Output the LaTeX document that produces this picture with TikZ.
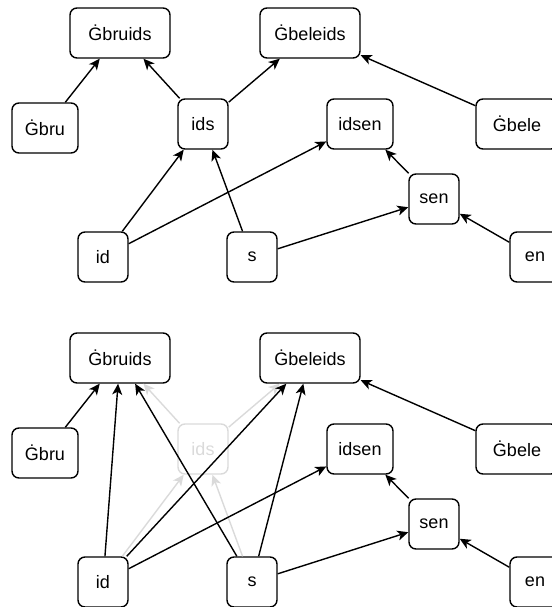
\documentclass[tikz,border=0pt]{standalone}
\usepackage{fontspec}
\setmainfont{Liberation Sans}
\usetikzlibrary{arrows.meta}
\definecolor{faint}{RGB}{218,218,218}
\tikzset{
  box/.style={draw, rounded corners=7pt, line width=1.4pt, minimum height=50pt,
    minimum width=50pt, inner sep=0pt, font=\fontsize{18}{20}\selectfont},
  ghost/.style={box, draw=faint, text=faint},
  edge/.style={-{Stealth[length=11pt,width=10pt,inset=3pt]}, line width=1.4pt},
  faintedge/.style={edge, draw=faint}
}
\begin{document}
\begin{tikzpicture}[x=1pt,y=-1pt]
  \useasboundingbox (0,0) rectangle (551,607);
  % upper graph
  \node[box, minimum width=100pt] (gbruids) at (120,33) {Ġbruids};
  \node[box, minimum width=100pt] (gbeleids) at (310,33) {Ġbeleids};
  \node[box, minimum width=66pt] (gbru) at (45,128) {Ġbru};
  \node[box] (ids) at (203,124) {ids};
  \node[box, minimum width=66pt] (idsen) at (360,124) {idsen};
  \node[box, minimum width=82pt] (gbele) at (517,124) {Ġbele};
  \node[box] (sen) at (434,199) {sen};
  \node[box] (id) at (103,257) {id};
  \node[box] (s) at (252,257) {s};
  \node[box] (en) at (535,257) {en};
  \begin{scope}[edge]
    \draw (gbru) to (gbruids);
    \draw (ids) to (gbruids);
    \draw (ids) to (gbeleids);
    \draw (gbele) to (gbeleids);
    \draw (id) to (ids);
    \draw (s) to (ids);
    \draw (id) to (idsen);
    \draw (s) to (sen);
    \draw (sen) to (idsen);
    \draw (en) to (sen);
  \end{scope}
  % lower graph, ids faded out
  \node[ghost] (ids2) at (203,449) {ids};
  \node[box, minimum width=100pt] (gbruids2) at (120,358) {Ġbruids};
  \node[box, minimum width=100pt] (gbeleids2) at (310,358) {Ġbeleids};
  \node[box, minimum width=66pt] (gbru2) at (45,453) {Ġbru};
  \node[box, minimum width=66pt] (idsen2) at (360,449) {idsen};
  \node[box, minimum width=82pt] (gbele2) at (517,449) {Ġbele};
  \node[box] (sen2) at (434,524) {sen};
  \node[box] (id2) at (103,582) {id};
  \node[box] (s2) at (252,582) {s};
  \node[box] (en2) at (535,582) {en};
  \begin{scope}[faintedge]
    \draw (ids2) to (gbruids2);
    \draw (ids2) to (gbeleids2);
    \draw (id2) to (ids2);
    \draw (s2) to (ids2);
  \end{scope}
  \begin{scope}[edge]
    \draw (gbru2) to (gbruids2);
    \draw (id2) to (gbruids2);
    \draw (s2) to (gbruids2);
    \draw (id2) to (gbeleids2);
    \draw (s2) to (gbeleids2);
    \draw (gbele2) to (gbeleids2);
    \draw (id2) to (idsen2);
    \draw (s2) to (sen2);
    \draw (sen2) to (idsen2);
    \draw (en2) to (sen2);
  \end{scope}
\end{tikzpicture}
\end{document}
